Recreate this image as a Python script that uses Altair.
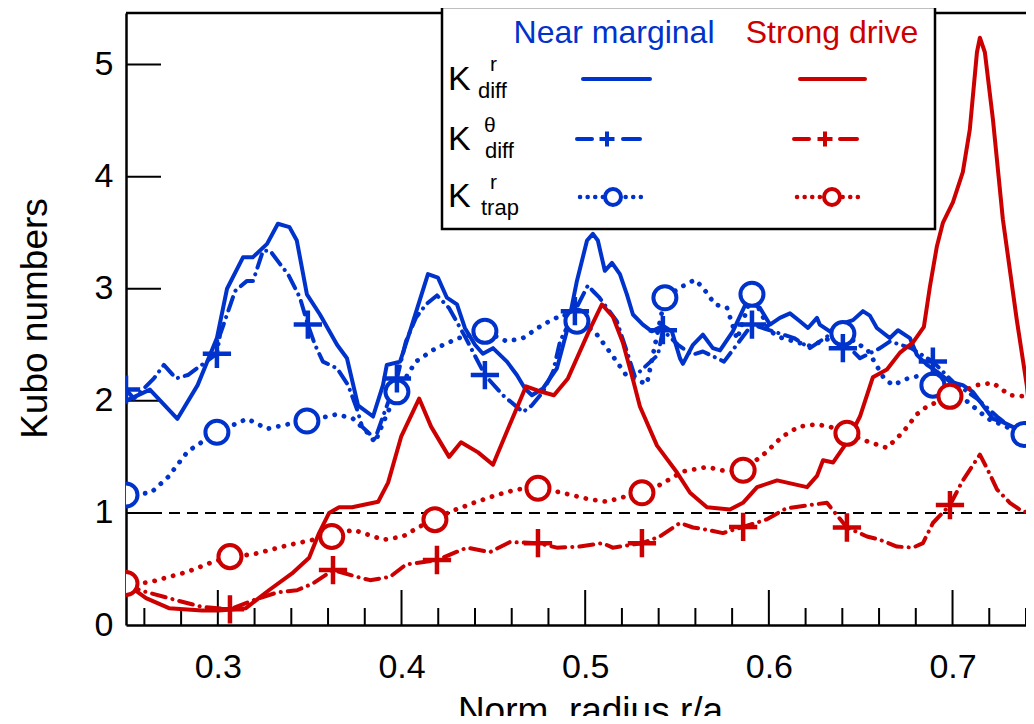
import altair as alt
import pandas as pd

BLUE = "#0033cc"
RED = "#cc0000"
FONT = "Liberation Sans"

# ---------------- data ----------------
# Near marginal, K^r_diff (solid)
nm_r_x = [0.250, 0.263, 0.278, 0.289, 0.2995, 0.305, 0.3137, 0.319, 0.3268, 0.3327, 0.339, 0.343,
          0.3485, 0.3556, 0.3649, 0.3703, 0.3763, 0.3845, 0.3899, 0.392, 0.3992, 0.4046, 0.4144,
          0.4198, 0.4247, 0.4302, 0.4345, 0.440, 0.4443, 0.4498, 0.4574, 0.4628, 0.4672, 0.471,
          0.477, 0.4846, 0.490, 0.4955, 0.501, 0.5042, 0.5069, 0.5107, 0.5146, 0.5189, 0.5227,
          0.526, 0.5314, 0.5363, 0.5423, 0.5472, 0.5516, 0.5532, 0.5587, 0.5641, 0.5695, 0.5734,
          0.5804, 0.5881, 0.5951, 0.6006, 0.606, 0.6115, 0.6169, 0.6213, 0.6262, 0.6277, 0.6332,
          0.6403, 0.6458, 0.6512, 0.655, 0.6588, 0.6659, 0.6703, 0.6768, 0.6806, 0.6861, 0.6915,
          0.6986, 0.7056, 0.7111, 0.7165, 0.722, 0.7274, 0.735, 0.7405, 0.7443]
nm_r_y = [2.00, 2.10, 1.84, 2.14, 2.56, 3.00, 3.28, 3.28, 3.40, 3.58, 3.55, 3.43,
          2.95, 2.77, 2.50, 2.38, 1.96, 1.86, 2.14, 2.32, 2.35, 2.62, 3.13,
          3.10, 2.92, 2.86, 2.65, 2.50, 2.42, 2.47, 2.35, 2.23, 2.11, 2.05,
          2.11, 2.29, 2.62, 3.07, 3.43, 3.49, 3.43, 3.16, 3.23, 3.13, 2.95,
          2.77, 2.68, 2.62, 2.67, 2.62, 2.38, 2.33, 2.50, 2.59, 2.47, 2.45,
          2.62, 2.89, 2.83, 2.68, 2.74, 2.78, 2.71, 2.65, 2.74, 2.68, 2.62,
          2.69, 2.72, 2.80, 2.76, 2.65, 2.56, 2.63, 2.56, 2.41, 2.32, 2.26,
          2.17, 2.14, 2.08, 1.96, 1.84, 1.81, 1.75, 1.63, 1.54]

# Near marginal, K^theta_diff (dashed)
nm_t_x = [0.250, 0.2543, 0.2652, 0.2706, 0.2772, 0.2837, 0.2995, 0.3012, 0.305, 0.3094, 0.3159,
          0.3192, 0.3246, 0.3284, 0.3339, 0.3382, 0.3447, 0.349, 0.3529, 0.3572, 0.3649, 0.3709,
          0.3763, 0.3785, 0.3856, 0.3899, 0.3975, 0.4024, 0.4078, 0.4133, 0.4193, 0.4258, 0.435,
          0.4454, 0.4552, 0.4661, 0.471, 0.477, 0.4825, 0.4863, 0.4944, 0.5015, 0.5042, 0.5078,
          0.5172, 0.5227, 0.527, 0.5396, 0.5423, 0.5505, 0.5581, 0.5641, 0.5756, 0.5908, 0.6137,
          0.6223, 0.6332, 0.6403, 0.6441, 0.6496, 0.6605, 0.6659, 0.6774, 0.6893, 0.6948, 0.7002,
          0.7133, 0.7242, 0.7351, 0.7438]
nm_t_y = [2.10, 2.02, 2.20, 2.32, 2.20, 2.23, 2.42, 2.59, 2.77, 2.98, 3.07,
          3.07, 3.34, 3.34, 3.22, 3.13, 2.92, 2.68, 2.50, 2.35, 2.29, 2.14,
          1.90, 1.77, 1.66, 1.86, 2.20, 2.53, 2.74, 2.86, 2.94, 2.83, 2.56,
          2.23, 2.05, 1.90, 1.96, 2.08, 2.26, 2.53, 2.80, 3.03, 2.98, 2.92,
          2.71, 2.44, 2.22, 2.41, 2.63, 2.50, 2.41, 2.44, 2.35, 2.68, 2.56,
          2.47, 2.59, 2.47, 2.47, 2.38, 2.47, 2.53, 2.47, 2.35, 2.26, 2.17,
          2.02, 1.86, 1.72, 1.60]
nm_t_mx = [0.250, 0.2995, 0.349, 0.3975, 0.4454, 0.4944, 0.5423, 0.5908, 0.6403, 0.6893]
nm_t_my = [2.10, 2.42, 2.68, 2.20, 2.23, 2.80, 2.63, 2.68, 2.47, 2.35]

# Near marginal, K^r_trap (dotted)
nm_p_x = [0.250, 0.2636, 0.2729, 0.2837, 0.2995, 0.316, 0.3268, 0.3377, 0.3485, 0.3649, 0.3736,
          0.3812, 0.3856, 0.3899, 0.3975, 0.4078, 0.4187, 0.4312, 0.4454, 0.4574, 0.4661, 0.477,
          0.4879, 0.4955, 0.5051, 0.515, 0.5227, 0.5336, 0.5374, 0.5434, 0.5516, 0.5597, 0.5641,
          0.5707, 0.5772, 0.5827, 0.5908, 0.6006, 0.6072, 0.6223, 0.6403, 0.6539, 0.6627, 0.6676,
          0.6757, 0.6811, 0.6893, 0.7007, 0.7083, 0.7193, 0.7318, 0.7389, 0.7443]
nm_p_y = [1.16, 1.18, 1.32, 1.55, 1.72, 1.84, 1.75, 1.79, 1.82, 1.88, 1.84,
          1.72, 1.63, 1.80, 2.08, 2.35, 2.47, 2.56, 2.62, 2.53, 2.56, 2.68,
          2.77, 2.71, 2.62, 2.40, 2.22, 2.15, 2.45, 2.92, 3.01, 3.08, 3.01,
          2.86, 2.83, 2.55, 2.95, 2.62, 2.56, 2.49, 2.60, 2.45, 2.20, 2.14,
          2.20, 2.22, 2.14, 2.08, 1.99, 1.84, 1.75, 1.70, 1.54]
nm_p_mx = [0.250, 0.2995, 0.3485, 0.3975, 0.4454, 0.4955, 0.5434, 0.5908, 0.6403, 0.6893, 0.7389]
nm_p_my = [1.16, 1.72, 1.82, 2.08, 2.62, 2.71, 2.92, 2.95, 2.60, 2.14, 1.70]

# Strong drive, K^r_diff (solid)
sd_r_x = [0.250, 0.2609, 0.2734, 0.2914, 0.3006, 0.3153, 0.3278, 0.3404, 0.3497, 0.3551, 0.3606,
          0.366, 0.3731, 0.3873, 0.3927, 0.3998, 0.4096, 0.4161, 0.4259, 0.4324, 0.4417, 0.4498,
          0.458, 0.4678, 0.4743, 0.483, 0.4906, 0.502, 0.5091, 0.5151, 0.5205, 0.526, 0.5298,
          0.5391, 0.550, 0.5571, 0.5663, 0.5788, 0.5859, 0.5936, 0.6045, 0.6153, 0.6208, 0.6262,
          0.6295, 0.635, 0.6425, 0.6496, 0.6566, 0.6643, 0.6714, 0.6784, 0.6844, 0.6877, 0.6915,
          0.6948, 0.7002, 0.7056, 0.7094, 0.7133, 0.7149, 0.7176, 0.722, 0.7274, 0.735, 0.7405,
          0.7443]
sd_r_y = [0.37, 0.24, 0.15, 0.13, 0.13, 0.15, 0.31, 0.46, 0.60, 0.82, 1.00,
          1.05, 1.05, 1.10, 1.27, 1.68, 2.02, 1.77, 1.50, 1.63, 1.54, 1.43,
          1.75, 2.13, 2.09, 2.05, 2.20, 2.62, 2.86, 2.75, 2.52, 2.19, 1.95,
          1.60, 1.36, 1.18, 1.05, 1.03, 1.09, 1.23, 1.29, 1.25, 1.23, 1.33,
          1.47, 1.45, 1.63, 1.86, 2.21, 2.28, 2.43, 2.52, 2.66, 3.02, 3.38,
          3.59, 3.77, 4.04, 4.42, 5.11, 5.24, 5.11, 4.51, 3.62, 2.72, 2.13,
          1.54]

# Strong drive, K^theta_diff (dashed)
sd_t_x = [0.250, 0.2576, 0.2777, 0.2919, 0.3066, 0.3191, 0.3322, 0.3431, 0.3518, 0.3627, 0.3758,
          0.3829, 0.3938, 0.4025, 0.4193, 0.4356, 0.4481, 0.459, 0.4743, 0.4846, 0.4971, 0.5096,
          0.515, 0.5309, 0.5407, 0.5516, 0.5587, 0.5663, 0.575, 0.586, 0.5985, 0.6094, 0.6223,
          0.6316, 0.6425, 0.6534, 0.6605, 0.6697, 0.6784, 0.6839, 0.6893, 0.6986, 0.7056, 0.7149,
          0.7193, 0.7242, 0.7312, 0.7384, 0.7443]
sd_t_y = [0.37, 0.31, 0.22, 0.16, 0.14, 0.22, 0.29, 0.31, 0.37, 0.49, 0.43,
          0.40, 0.43, 0.54, 0.58, 0.69, 0.65, 0.74, 0.73, 0.69, 0.70, 0.73,
          0.69, 0.73, 0.79, 0.91, 0.87, 0.85, 0.82, 0.875, 0.94, 1.04, 1.07,
          1.09, 0.87, 0.79, 0.76, 0.70, 0.69, 0.73, 0.91, 1.07, 1.29, 1.52,
          1.38, 1.21, 1.09, 1.01, 1.01]
sd_t_mx = [0.3066, 0.3627, 0.4193, 0.4743, 0.5309, 0.586, 0.6425, 0.6986]
sd_t_my = [0.14, 0.49, 0.58, 0.73, 0.73, 0.875, 0.87, 1.07]

# Strong drive, K^r_trap (dotted)
sd_p_x = [0.250, 0.2625, 0.2826, 0.2968, 0.3066, 0.3191, 0.3377, 0.3518, 0.362, 0.3736, 0.3829,
          0.390, 0.4008, 0.4101, 0.4182, 0.4264, 0.441, 0.4519, 0.4628, 0.4743, 0.4846, 0.5026,
          0.5118, 0.5205, 0.5309, 0.5407, 0.5532, 0.5663, 0.5772, 0.586, 0.5985, 0.6072, 0.6164,
          0.6257, 0.6332, 0.6425, 0.655, 0.6643, 0.673, 0.6806, 0.6861, 0.6986, 0.7133, 0.722,
          0.7312, 0.7389, 0.7443]
sd_p_y = [0.37, 0.38, 0.47, 0.56, 0.61, 0.63, 0.71, 0.76, 0.79, 0.85, 0.80,
          0.76, 0.79, 0.88, 0.94, 1.01, 1.10, 1.16, 1.21, 1.22, 1.19, 1.12,
          1.10, 1.14, 1.18, 1.25, 1.37, 1.41, 1.37, 1.38, 1.54, 1.68, 1.77,
          1.79, 1.77, 1.71, 1.63, 1.58, 1.72, 1.88, 1.95, 2.04, 2.14, 2.16,
          2.05, 2.04, 2.00]
sd_p_mx = [0.250, 0.3066, 0.362, 0.4182, 0.4743, 0.5309, 0.586, 0.6425, 0.6986]
sd_p_my = [0.37, 0.61, 0.79, 0.94, 1.22, 1.18, 1.38, 1.71, 2.04]

x_ticks_major = [0.3, 0.4, 0.5, 0.6, 0.7]
x_ticks_minor = [0.26, 0.28, 0.32, 0.34, 0.36, 0.38, 0.42, 0.44, 0.46, 0.48,
                 0.52, 0.54, 0.56, 0.58, 0.62, 0.64, 0.66, 0.68, 0.72, 0.74]
y_ticks = [0, 1, 2, 3, 4, 5]
ref_level = [1.0]

# ---------------- chart ----------------
W, H = 900, 612
PLUS = "M-1,0L1,0M0,-1L0,1"

xscale = alt.Scale(domain=[0.25, 0.74], nice=False, zero=False)
yscale = alt.Scale(domain=[0, 5.46], nice=False, zero=False)
xaxis = alt.Axis(values=x_ticks_major, format=".1f", ticks=False, tickSize=0, grid=False,
                 domainColor="black", domainWidth=2.5, labelFontSize=34, labelColor="black",
                 labelPadding=52, labelBaseline="alphabetic", labelFont=FONT,
                 title="Norm. radius r/a", titleFontSize=37,
                 titleFont=FONT, titleFontWeight="normal", titleColor="black",
                 titleX=464, titleY=97, titleAlign="center", titleBaseline="alphabetic")
yaxis = alt.Axis(values=y_ticks, format="d", ticks=False, tickSize=0, grid=False,
                 domainColor="black", domainWidth=2.5, labelFontSize=34, labelColor="black",
                 labelPadding=13, labelFont=FONT, title="Kubo numbers", titleFontSize=37,
                 titleFont=FONT, titleFontWeight="normal", titleColor="black",
                 titleX=-91, titleY=305, titleAlign="center", titleBaseline="middle", titleAngle=-90)

X = alt.X("r:Q", scale=xscale, axis=xaxis)
Y = alt.Y("k:Q", scale=yscale, axis=yaxis)


def df(xs, ys):
    return pd.DataFrame({"r": xs, "k": ys})


def line(xs, ys, color, dash=None, width=4.0):
    kw = dict(color=color, strokeWidth=width, strokeCap="round", strokeJoin="round", clip=True)
    if dash is not None:
        kw["strokeDash"] = dash
    return alt.Chart(df(xs, ys)).mark_line(**kw).encode(x=X, y=Y, order="r:Q")


def plus(xs, ys, color, size=800, width=4.5):
    return alt.Chart(df(xs, ys)).mark_point(shape=PLUS, filled=False, color=color, strokeWidth=width,
                                            size=size, opacity=1, clip=True).encode(x=X, y=Y)


def circ(xs, ys, color, size=530, width=4):
    return alt.Chart(df(xs, ys)).mark_point(shape="circle", filled=True, fill="white", stroke=color,
                                            strokeWidth=width, size=size, fillOpacity=1, opacity=1,
                                            clip=True).encode(x=X, y=Y)


DOT = [0.1, 9.5]
DASH = [14, 7, 0.1, 7]

ref = alt.Chart(pd.DataFrame({"k": ref_level})).mark_rule(
    color="black", strokeWidth=2, strokeDash=[11, 7]).encode(y=Y)

majors = alt.Chart(pd.DataFrame({"r": x_ticks_major})).mark_rule(color="black", strokeWidth=2).encode(
    x=X, y=alt.value(H), y2=alt.value(H - 35))
minors = alt.Chart(pd.DataFrame({"r": x_ticks_minor})).mark_rule(color="black", strokeWidth=2).encode(
    x=X, y=alt.value(H), y2=alt.value(H - 17))
yt = alt.Chart(pd.DataFrame({"k": y_ticks[1:]})).mark_rule(color="black", strokeWidth=2).encode(
    y=Y, x=alt.value(0), x2=alt.value(35))
topline = alt.Chart(pd.DataFrame({"k": [0]})).mark_rule(color="black", strokeWidth=2.5).encode(
    x=alt.value(0), x2=alt.value(W), y=alt.value(0))

one = pd.DataFrame({"a": [0]})


def vrule(x1, x2, y, color, dash=None, width=4):
    kw = dict(color=color, strokeWidth=width, strokeCap="round")
    if dash is not None:
        kw["strokeDash"] = dash
    return alt.Chart(one).mark_rule(**kw).encode(x=alt.value(x1), x2=alt.value(x2), y=alt.value(y))


def vtext(t, x, y, color="black", size=32, align="left", baseline="alphabetic"):
    return alt.Chart(one).mark_text(text=t, font=FONT, fontSize=size, color=color, align=align,
                                    baseline=baseline).encode(x=alt.value(x), y=alt.value(y))


def vsym(x, y, color, shape, size, width=4):
    if shape == "circle":
        m = alt.Chart(one).mark_point(shape="circle", filled=True, fill="white", stroke=color,
                                      strokeWidth=width, size=size, fillOpacity=1, opacity=1)
    else:
        m = alt.Chart(one).mark_point(shape=PLUS, filled=False, color=color, strokeWidth=width,
                                      size=size, opacity=1)
    return m.encode(x=alt.value(x), y=alt.value(y))


legend_box = alt.Chart(one).mark_rect(fill="white", stroke="black", strokeWidth=2.5).encode(
    x=alt.value(316), x2=alt.value(809), y=alt.value(-6), y2=alt.value(216))

legend = [
    legend_box,
    vtext("Near marginal", 488, 30, BLUE, 32, "center"),
    vtext("Strong drive", 706, 30, RED, 32, "center"),
    vtext("K", 322, 77, size=34), vtext("r", 364, 58, size=21), vtext("diff", 352, 85, size=22),
    vtext("K", 322, 137, size=34), vtext("θ", 358, 119, size=21), vtext("diff", 359, 145, size=22),
    vtext("K", 322, 194, size=34), vtext("r", 364, 176, size=21), vtext("trap", 355, 202, size=22),
    vrule(457, 524, 66, BLUE), vrule(674, 739, 66, RED),
    vrule(451, 466, 126, BLUE), vrule(497, 514, 126, BLUE), vsym(481, 126, BLUE, "plus", 225),
    vrule(668, 683, 126, RED), vrule(714, 731, 126, RED), vsym(699, 126, RED, "plus", 225),
    vrule(454, 519, 184, BLUE, [0.1, 7.5], 4.5), vsym(487, 184, BLUE, "circle", 256),
    vrule(671, 737, 184, RED, [0.1, 7.5], 4.5), vsym(706, 184, RED, "circle", 256),
]

layers = [
    topline, ref, majors, minors, yt,
    line(nm_p_x, nm_p_y, BLUE, DOT, 4.8), line(nm_t_x, nm_t_y, BLUE, DASH), line(nm_r_x, nm_r_y, BLUE),
    line(sd_p_x, sd_p_y, RED, DOT, 4.8), line(sd_t_x, sd_t_y, RED, DASH), line(sd_r_x, sd_r_y, RED),
    circ(nm_p_mx, nm_p_my, BLUE), plus(nm_t_mx, nm_t_my, BLUE),
    circ(sd_p_mx, sd_p_my, RED), plus(sd_t_mx, sd_t_my, RED),
] + legend

chart = alt.layer(*layers).properties(
    width=W, height=H,
    autosize=alt.AutoSizeParams(type="none"),
    padding={"left": 118, "top": 5, "right": 0, "bottom": 91},
).configure_view(stroke=None).configure(font=FONT, background="white")

chart.save("out.html", embed_options={"renderer": "svg", "actions": False})
